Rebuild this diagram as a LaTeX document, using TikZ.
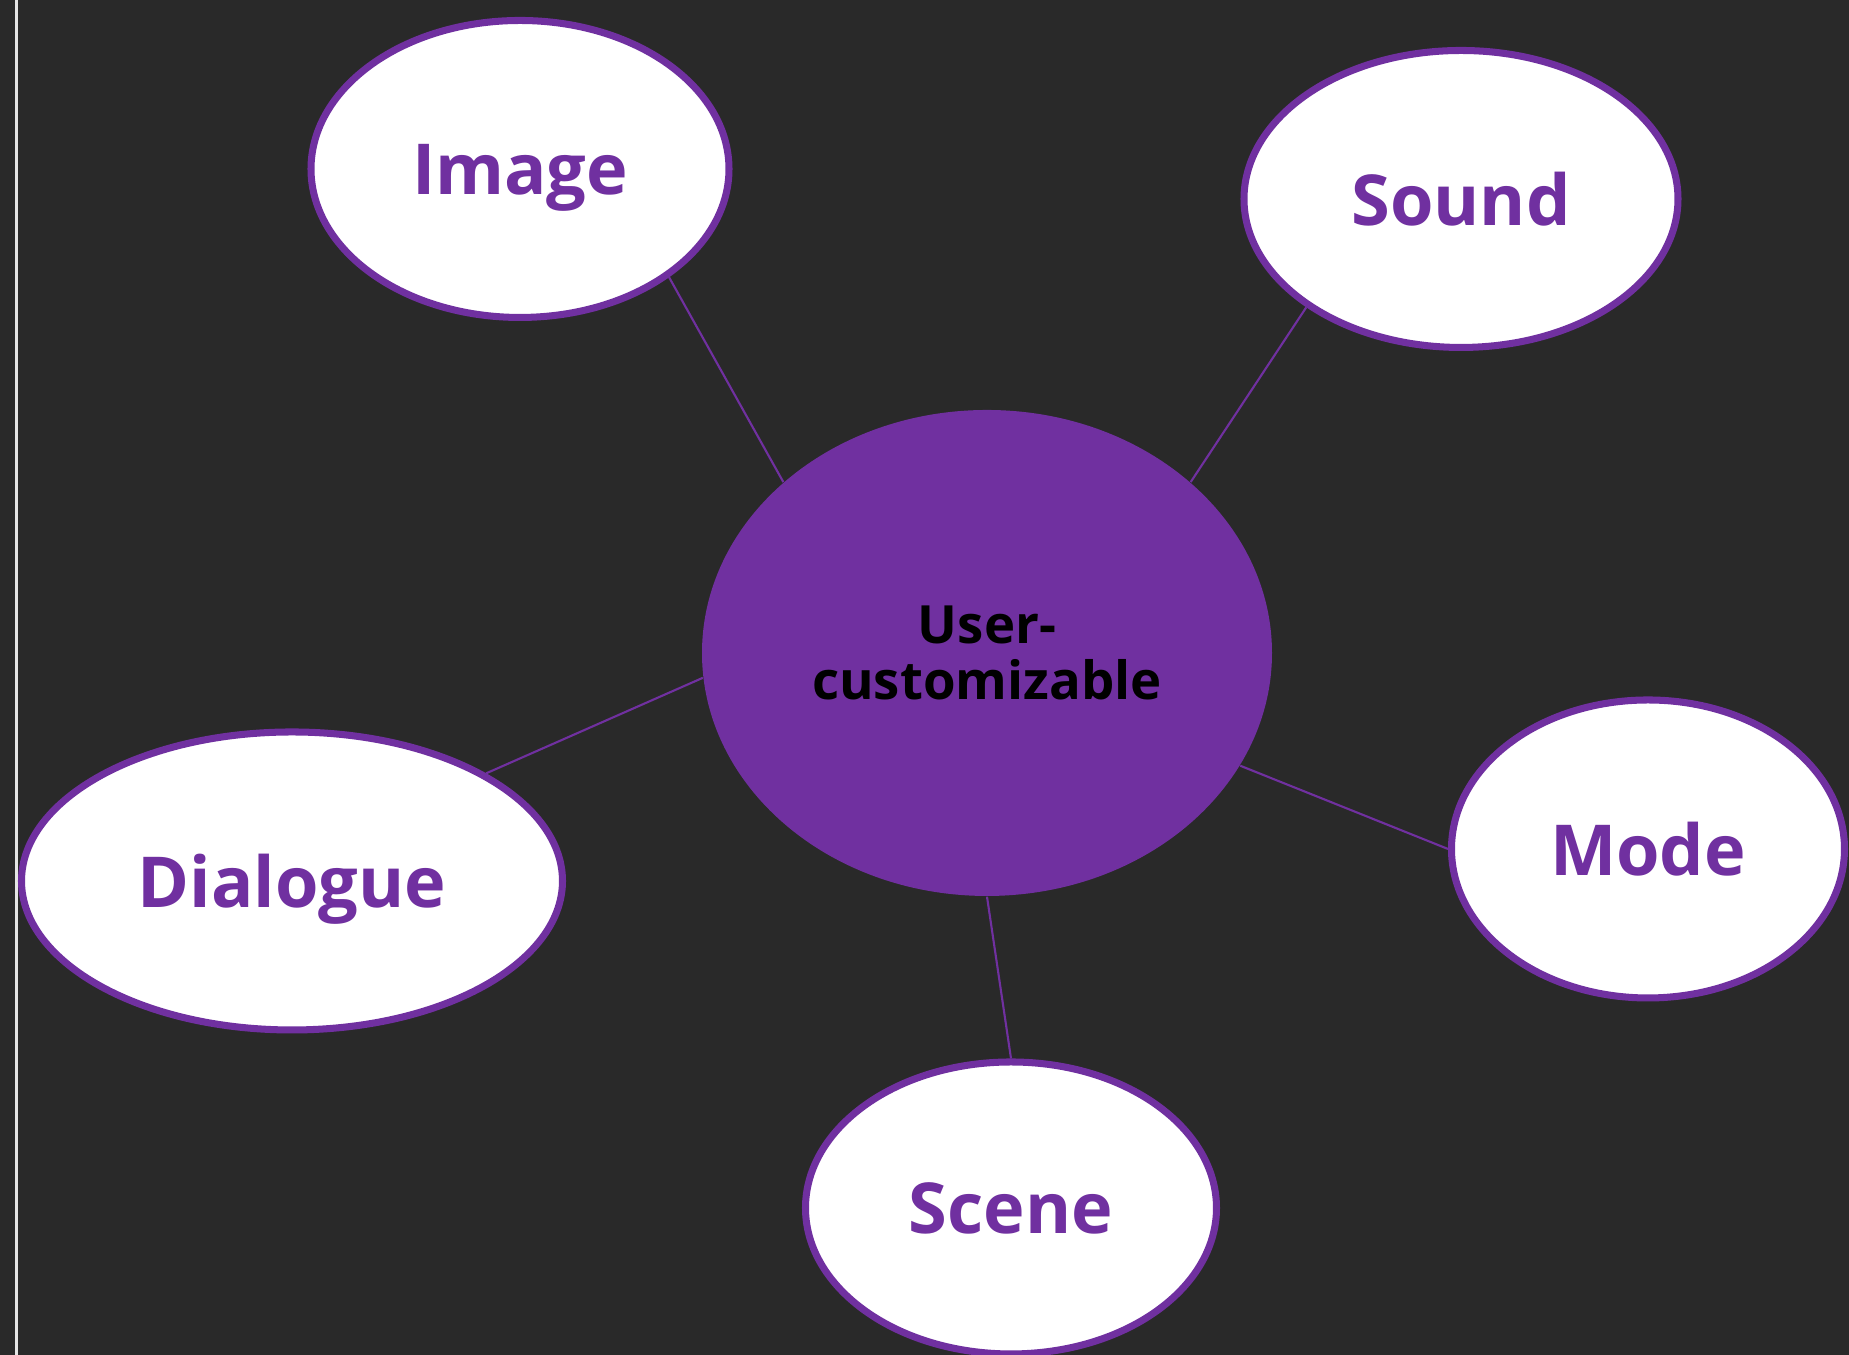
\documentclass[tikz,border=0pt]{standalone}
\usepackage{fontspec}
\setmainfont{Open Sans}
\usetikzlibrary{shapes.geometric}

\definecolor{bgdark}{HTML}{292929}
\definecolor{plum}{HTML}{7030A0}

\tikzset{
  hub/.style={ellipse, fill=plum, inner sep=0pt, align=center,
    font=\fontsize{15}{16.2}\selectfont\bfseries, text=black},
  leaf/.style={ellipse, draw=plum, line width=2pt, fill=white, inner sep=0pt,
    font=\fontsize{20}{24}\selectfont\bfseries, text=plum, text depth=0pt},
  link/.style={draw=plum, line width=0.6pt}
}

\begin{document}
\begin{tikzpicture}
\useasboundingbox (0,0) rectangle (18.49,13.55);
\fill[bgdark] (0,0) rectangle (18.49,13.55);
\fill[white!90!black] (0.145,0) rectangle (0.175,13.55);

\node[hub, minimum width=5.70cm, minimum height=4.86cm] (Uc) at (9.87,7.02) {User-\\customizable};
\node[leaf, minimum width=4.18cm, minimum height=2.97cm] (Im) at (5.20,11.86) {Image};
\node[leaf, minimum width=4.34cm, minimum height=2.97cm] (So) at (14.61,11.56) {Sound};
\node[leaf, minimum width=5.41cm, minimum height=2.98cm] (Di) at (2.92,4.74) {Dialogue};
\node[leaf, minimum width=3.93cm, minimum height=2.98cm] (Mo) at (16.48,5.06) {Mode};
\node[leaf, minimum width=4.11cm, minimum height=2.92cm] (Sc) at (10.11,1.47) {Scene};

\draw[link] (Im.-36) -- (Uc.140);
\draw[link] (So.-145) -- (Uc.40);
\draw[link] (Di.29) -- (Uc.185);
\draw[link] (Mo.west) -- (Uc.-24);
\draw[link] (Sc.north) -- (Uc.south);
\end{tikzpicture}
\end{document}
